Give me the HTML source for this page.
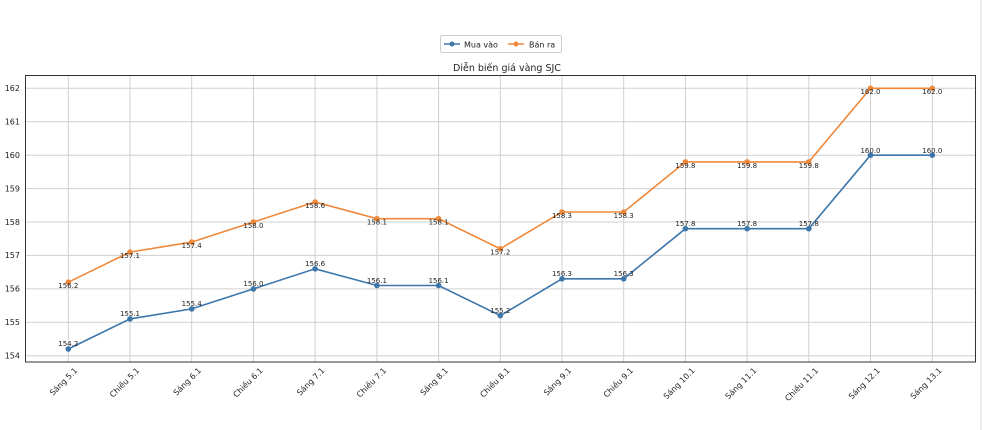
<!DOCTYPE html>
<html><head><meta charset="utf-8"><style>
html,body{margin:0;padding:0;background:#fff;}
svg{display:block;font-family:"DejaVu Sans","Liberation Sans",sans-serif;}
</style></head><body>
<svg width="984" height="430" viewBox="0 0 984 430" xmlns="http://www.w3.org/2000/svg">
<rect width="984" height="430" fill="#fff"/>
<line x1="981" y1="0" x2="981" y2="430" stroke="#ddd" stroke-width="1"/>
<rect x="440.5" y="35.5" width="121" height="17" rx="2" fill="#fff" stroke="#ccc"/>
<line x1="444" y1="44" x2="460" y2="44" stroke="#3c76aa" stroke-width="1.5"/><circle cx="452" cy="44" r="2.5" fill="#3c76aa"/>
<text x="464" y="47.5" font-size="8" fill="#222">Mua vào</text>
<line x1="508" y1="44" x2="524" y2="44" stroke="#f0883a" stroke-width="1.5"/><circle cx="516" cy="44" r="2.5" fill="#f0883a"/>
<text x="529" y="47.5" font-size="8" fill="#222">Bán ra</text>
<text x="507" y="71" font-size="9.5" text-anchor="middle" fill="#222">Diễn biến giá vàng SJC</text>
<g stroke="#d0d0d0" stroke-width="1">
<line x1="25" x2="975" y1="355.7" y2="355.7"/><line x1="25" x2="975" y1="322.3" y2="322.3"/><line x1="25" x2="975" y1="288.9" y2="288.9"/><line x1="25" x2="975" y1="255.4" y2="255.4"/><line x1="25" x2="975" y1="222" y2="222"/><line x1="25" x2="975" y1="188.6" y2="188.6"/><line x1="25" x2="975" y1="155.2" y2="155.2"/><line x1="25" x2="975" y1="121.8" y2="121.8"/><line x1="25" x2="975" y1="88.3" y2="88.3"/>
<line y1="75" y2="362" x1="68.3" x2="68.3"/><line y1="75" y2="362" x1="130" x2="130"/><line y1="75" y2="362" x1="191.7" x2="191.7"/><line y1="75" y2="362" x1="253.4" x2="253.4"/><line y1="75" y2="362" x1="315.1" x2="315.1"/><line y1="75" y2="362" x1="376.9" x2="376.9"/><line y1="75" y2="362" x1="438.6" x2="438.6"/><line y1="75" y2="362" x1="500.3" x2="500.3"/><line y1="75" y2="362" x1="562" x2="562"/><line y1="75" y2="362" x1="623.7" x2="623.7"/><line y1="75" y2="362" x1="685.4" x2="685.4"/><line y1="75" y2="362" x1="747.1" x2="747.1"/><line y1="75" y2="362" x1="808.8" x2="808.8"/><line y1="75" y2="362" x1="870.5" x2="870.5"/><line y1="75" y2="362" x1="932.3" x2="932.3"/>
</g>
<rect x="25.5" y="75.5" width="950" height="286.5" fill="none" stroke="#333" stroke-width="1"/>
<g font-size="8" fill="#222" text-anchor="end">
<text x="20" y="358.5">154</text><text x="20" y="325">155</text><text x="20" y="291.7">156</text><text x="20" y="258.2">157</text><text x="20" y="224.8">158</text><text x="20" y="191.4">159</text><text x="20" y="158">160</text><text x="20" y="124.6">161</text><text x="20" y="91.1">162</text>
</g>
<g font-size="8" fill="#222" text-anchor="end">
<text transform="translate(78,371) rotate(-45)">Sáng 5.1</text>
<text transform="translate(140,371) rotate(-45)">Chiều 5.1</text>
<text transform="translate(201.7,371) rotate(-45)">Sáng 6.1</text>
<text transform="translate(263.4,371) rotate(-45)">Chiều 6.1</text>
<text transform="translate(325.1,371) rotate(-45)">Sáng 7.1</text>
<text transform="translate(386.9,371) rotate(-45)">Chiều 7.1</text>
<text transform="translate(448.6,371) rotate(-45)">Sáng 8.1</text>
<text transform="translate(510.3,371) rotate(-45)">Chiều 8.1</text>
<text transform="translate(572,371) rotate(-45)">Sáng 9.1</text>
<text transform="translate(633.7,371) rotate(-45)">Chiều 9.1</text>
<text transform="translate(695.4,371) rotate(-45)">Sáng 10.1</text>
<text transform="translate(757.1,371) rotate(-45)">Sáng 11.1</text>
<text transform="translate(818.8,371) rotate(-45)">Chiều 11.1</text>
<text transform="translate(880.5,371) rotate(-45)">Sáng 12.1</text>
<text transform="translate(942.3,371) rotate(-45)">Sáng 13.1</text>
</g>
<polyline fill="none" stroke="#f0883a" stroke-width="1.6" points="68.3,282.2 130,252.1 191.7,242.1 253.4,222 315.1,202 376.9,218.7 438.6,218.7 500.3,248.8 562,212 623.7,212 685.4,161.9 747.1,161.9 808.8,161.9 870.5,88.3 932.3,88.3"/>
<g fill="#f0883a"><circle cx="68.3" cy="282.2" r="2.8"/><circle cx="130" cy="252.1" r="2.8"/><circle cx="191.7" cy="242.1" r="2.8"/><circle cx="253.4" cy="222" r="2.8"/><circle cx="315.1" cy="202" r="2.8"/><circle cx="376.9" cy="218.7" r="2.8"/><circle cx="438.6" cy="218.7" r="2.8"/><circle cx="500.3" cy="248.8" r="2.8"/><circle cx="562" cy="212" r="2.8"/><circle cx="623.7" cy="212" r="2.8"/><circle cx="685.4" cy="161.9" r="2.8"/><circle cx="747.1" cy="161.9" r="2.8"/><circle cx="808.8" cy="161.9" r="2.8"/><circle cx="870.5" cy="88.3" r="2.8"/><circle cx="932.3" cy="88.3" r="2.8"/></g>
<polyline fill="none" stroke="#3c76aa" stroke-width="1.6" points="68.3,349 130,318.9 191.7,308.9 253.4,288.9 315.1,268.8 376.9,285.5 438.6,285.5 500.3,315.6 562,278.8 623.7,278.8 685.4,228.7 747.1,228.7 808.8,228.7 870.5,155.2 932.3,155.2"/>
<g fill="#3c76aa"><circle cx="68.3" cy="349" r="2.8"/><circle cx="130" cy="318.9" r="2.8"/><circle cx="191.7" cy="308.9" r="2.8"/><circle cx="253.4" cy="288.9" r="2.8"/><circle cx="315.1" cy="268.8" r="2.8"/><circle cx="376.9" cy="285.5" r="2.8"/><circle cx="438.6" cy="285.5" r="2.8"/><circle cx="500.3" cy="315.6" r="2.8"/><circle cx="562" cy="278.8" r="2.8"/><circle cx="623.7" cy="278.8" r="2.8"/><circle cx="685.4" cy="228.7" r="2.8"/><circle cx="747.1" cy="228.7" r="2.8"/><circle cx="808.8" cy="228.7" r="2.8"/><circle cx="870.5" cy="155.2" r="2.8"/><circle cx="932.3" cy="155.2" r="2.8"/></g>
<g font-size="7" fill="#222" text-anchor="middle">
<text x="68.3" y="346">154.2</text><text x="130" y="316">155.1</text><text x="191.7" y="306">155.4</text><text x="253.4" y="286">156.0</text><text x="315.1" y="266">156.6</text><text x="376.9" y="283">156.1</text><text x="438.6" y="283">156.1</text><text x="500.3" y="313">155.2</text><text x="562" y="276">156.3</text><text x="623.7" y="276">156.3</text><text x="685.4" y="226">157.8</text><text x="747.1" y="226">157.8</text><text x="808.8" y="226">157.8</text><text x="870.5" y="153">160.0</text><text x="932.3" y="153">160.0</text>
<text x="68.3" y="288">156.2</text><text x="130" y="258">157.1</text><text x="191.7" y="248">157.4</text><text x="253.4" y="228">158.0</text><text x="315.1" y="208">158.6</text><text x="376.9" y="224.5">158.1</text><text x="438.6" y="224.5">158.1</text><text x="500.3" y="254.5">157.2</text><text x="562" y="218">158.3</text><text x="623.7" y="218">158.3</text><text x="685.4" y="168">159.8</text><text x="747.1" y="168">159.8</text><text x="808.8" y="168">159.8</text><text x="870.5" y="94">162.0</text><text x="932.3" y="94">162.0</text>
</g>
</svg>
</body></html>
